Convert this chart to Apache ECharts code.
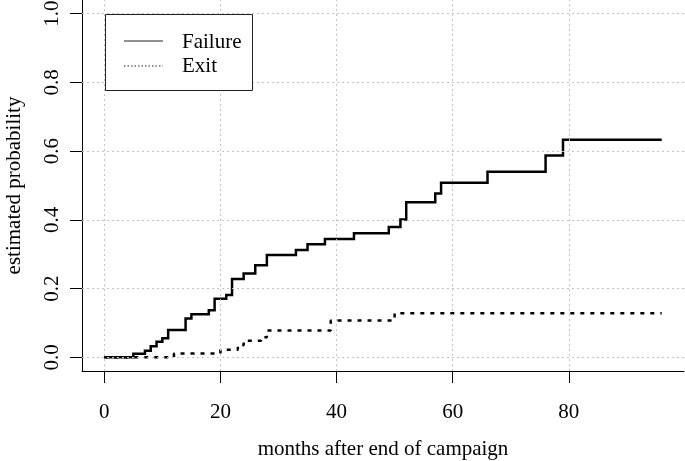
<!DOCTYPE html>
<html>
<head>
<meta charset="utf-8">
<script src="https://cdn.jsdelivr.net/npm/echarts@6/dist/echarts.min.js"></script>
<style>
html,body{margin:0;padding:0;background:#fff;}
#chart{width:685px;height:461px;}
</style>
</head>
<body>
<div id="chart"></div>
<script>
// ---- data ----
var failureMonths = [0, 5, 7, 8, 9, 10, 11, 14, 15, 18, 19, 21, 22, 24, 26, 28, 33, 35, 38, 43, 49, 51, 52, 57, 58, 66, 76, 79, 96];
var failureProb   = [0, 0.010, 0.019, 0.032, 0.045, 0.055, 0.079, 0.113, 0.125, 0.137, 0.170, 0.181, 0.228, 0.244, 0.268, 0.298, 0.312, 0.329, 0.344, 0.361, 0.379, 0.401, 0.451, 0.477, 0.508, 0.540, 0.587, 0.633, 0.633];
var exitMonths = [0, 12, 20, 23, 24, 27, 28, 39, 50, 96];
var exitProb   = [0, 0.011, 0.022, 0.035, 0.048, 0.058, 0.078, 0.107, 0.128, 0.128];
var xTicks = [0, 20, 40, 60, 80];
var yTicks = [0, 0.2, 0.4, 0.6, 0.8, 1.0];
var seriesNames = ['Failure', 'Exit'];
var xTitle = 'months after end of campaign';
var yTitle = 'estimated probability';

function pairs(xs, ys) { return xs.map(function (x, i) { return [x, ys[i]]; }); }

var FONT = 'Liberation Serif';
var gridLineStyle = { color: '#c4c4c4', width: 1, type: [2, 3] };
var markData = [];
xTicks.forEach(function (v) { markData.push({ xAxis: v }); });
yTicks.forEach(function (v) { markData.push({ yAxis: v }); });

var chart = echarts.init(document.getElementById('chart'), null, { renderer: 'canvas' });
chart.setOption({
  animation: false,
  backgroundColor: '#fff',
  grid: { left: 82, right: 1, top: 0, bottom: 90, containLabel: false, outerBoundsMode: 'none' },
  xAxis: {
    type: 'value', min: -3.84, max: 99.84,
    name: xTitle, nameLocation: 'middle', nameGap: 68,
    nameTextStyle: { fontFamily: FONT, fontSize: 21, color: '#000' },
    axisLine: { show: true, onZero: false, lineStyle: { color: '#000', width: 1 } },
    axisTick: { show: true, length: 12, customValues: xTicks, lineStyle: { color: '#000', width: 1 } },
    axisLabel: { customValues: xTicks, margin: 31, fontFamily: FONT, fontSize: 21, color: '#000' },
    splitLine: { show: false }
  },
  yAxis: {
    type: 'value', min: -0.04, max: 1.04,
    name: yTitle, nameLocation: 'middle', nameGap: 57,
    nameTextStyle: { fontFamily: FONT, fontSize: 21, color: '#000' },
    axisLine: { show: true, onZero: false, lineStyle: { color: '#000', width: 1 } },
    axisTick: { show: true, length: 12, customValues: yTicks, lineStyle: { color: '#000', width: 1 } },
    axisLabel: { customValues: yTicks, rotate: 90, margin: 19, fontFamily: FONT, fontSize: 21, color: '#000',
      formatter: function (v) { return v.toFixed(1); } },
    splitLine: { show: false }
  },
  series: [
    {
      name: seriesNames[0], type: 'line', step: 'end', showSymbol: false, symbol: 'none',
      data: pairs(failureMonths, failureProb),
      lineStyle: { color: '#000', width: 2.5, cap: 'butt', join: 'miter' },
      markLine: {
        silent: true, symbol: 'none', label: { show: false },
        lineStyle: gridLineStyle, data: markData, animation: false
      },
      z: 3
    },
    {
      name: seriesNames[1], type: 'line', step: 'end', showSymbol: false, symbol: 'none',
      data: pairs(exitMonths, exitProb),
      lineStyle: { color: '#000', width: 2.5, type: [4, 6], cap: 'butt' },
      z: 3
    }
  ],
  graphic: [
    { type: 'rect', z: 100, shape: { x: 105.5, y: 14.5, width: 147, height: 76 },
      style: { fill: '#fff', stroke: '#222', lineWidth: 1 } },
    { type: 'line', z: 101, shape: { x1: 124, y1: 41, x2: 163, y2: 41 },
      style: { stroke: '#222', lineWidth: 1 } },
    { type: 'line', z: 101, shape: { x1: 124, y1: 66, x2: 163, y2: 66 },
      style: { stroke: '#222', lineWidth: 1, lineDash: [1.5, 2] } },
    { type: 'text', z: 101, style: { x: 182, y: 42, text: seriesNames[0], fontFamily: FONT, fontSize: 21,
      fill: '#000', textVerticalAlign: 'middle', verticalAlign: 'middle' } },
    { type: 'text', z: 101, style: { x: 182, y: 66, text: seriesNames[1], fontFamily: FONT, fontSize: 21,
      fill: '#000', textVerticalAlign: 'middle', verticalAlign: 'middle' } }
  ]
});
</script>
</body>
</html>
